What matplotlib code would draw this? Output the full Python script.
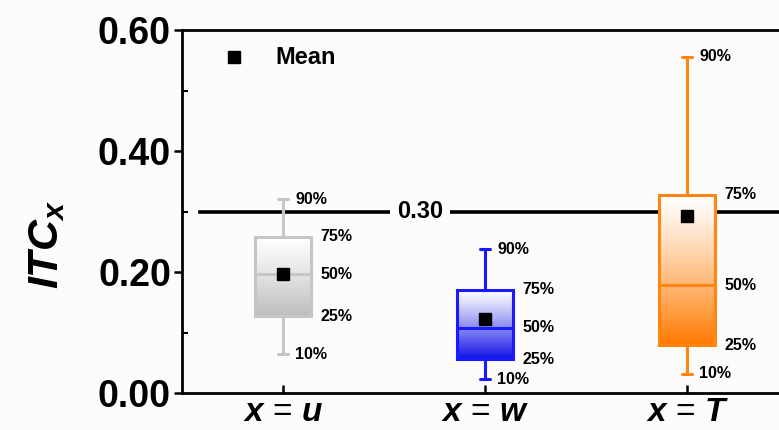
import matplotlib
matplotlib.use("Agg")
import matplotlib.pyplot as plt
import numpy as np
from matplotlib.colors import to_rgb

plt.rcParams['font.family'] = ['Liberation Sans', 'DejaVu Sans']
plt.rcParams['mathtext.fontset'] = 'custom'
plt.rcParams['mathtext.it'] = 'Liberation Sans:italic:bold'
plt.rcParams['mathtext.rm'] = 'Liberation Sans:bold'
plt.rcParams['mathtext.bf'] = 'Liberation Sans:bold'

# ---- data ----
categories = ['$x$ = $u$', '$x$ = $w$', '$x$ = $T$']
p10 = [0.064, 0.023, 0.032]
p25 = [0.127, 0.056, 0.079]
p50 = [0.196, 0.108, 0.178]
p75 = [0.258, 0.171, 0.328]
p90 = [0.320, 0.238, 0.556]
means = [0.197, 0.123, 0.293]
colors = ['#c6c6c6', '#1a1aff', '#ff8514']
bottom_colors = ['#bdbdbd', '#1010e8', '#ff7a00']
threshold = 0.30
yticks = [0.0, 0.2, 0.4, 0.6]
ytick_labels = ['0.00', '0.20', '0.40', '0.60']
pct_labels = ['10%', '25%', '50%', '75%', '90%']

bg = '#fdfcfb'
fig = plt.figure(figsize=(7.79, 4.30), dpi=100, facecolor=bg)
ax = fig.add_axes([182/779, 37/430, 606/779, 363/430])
ax.set_facecolor(bg)

positions = np.arange(1, len(categories) + 1)
bw = 0.28
cap = 0.045

for i, x in enumerate(positions):
    c = colors[i]
    # opaque gradient fill: white at top -> colour at bottom
    n = 200
    a = np.linspace(1, 0, n) ** 1.2   # row 0 (bottom, origin lower) = full colour
    rgb = np.array(to_rgb(bottom_colors[i]))
    img = np.ones((n, 1, 3))
    img[:, 0, :] = (1 - a)[:, None] * 1.0 + a[:, None] * rgb
    ax.imshow(img, extent=[x - bw/2, x + bw/2, p25[i], p75[i]], origin='lower',
              aspect='auto', zorder=5, interpolation='bilinear')
    lw = 2.2
    ax.plot([x - bw/2, x + bw/2, x + bw/2, x - bw/2, x - bw/2],
            [p25[i], p25[i], p75[i], p75[i], p25[i]], color=c, lw=lw, zorder=6,
            solid_joinstyle='miter')
    ax.plot([x - bw/2, x + bw/2], [p50[i], p50[i]], color=c, lw=lw, zorder=6)
    ax.plot([x, x], [p75[i], p90[i]], color=c, lw=lw, zorder=6)
    ax.plot([x, x], [p10[i], p25[i]], color=c, lw=lw, zorder=6)
    ax.plot([x - cap/2, x + cap/2], [p90[i], p90[i]], color=c, lw=lw, zorder=6,
            solid_capstyle='round')
    ax.plot([x - cap/2, x + cap/2], [p10[i], p10[i]], color=c, lw=lw, zorder=6,
            solid_capstyle='round')
    ax.plot(x, means[i], marker='s', color='black', markersize=8, zorder=7, ls='none')
    lab_x_box = x + bw/2 + 0.045
    lab_x_wh = x + 0.06
    vals = [p10[i], p25[i], p50[i], p75[i], p90[i]]
    xs = [lab_x_wh, lab_x_box, lab_x_box, lab_x_box, lab_x_wh]
    for lx, v, s in zip(xs, vals, pct_labels):
        ax.text(lx, v, s, fontsize=11.5, fontweight='bold', va='center', ha='left',
                zorder=8)

# threshold line
ax.plot([0.59, 3.6], [threshold, threshold], color='black', lw=2.6, zorder=4,
        clip_on=True)
ax.text(1.68, threshold, f'{threshold:.2f}', fontsize=17, fontweight='bold',
        ha='center', va='center', zorder=4.5,
        bbox=dict(facecolor=bg, edgecolor='none', pad=5))

# legend
ax.plot(0.757, 0.555, marker='s', color='black', markersize=8, ls='none', zorder=6)
ax.text(0.96, 0.555, 'Mean', fontsize=17, fontweight='bold', va='center', ha='left')

ax.set_xlim(0.5, 3.5)
ax.set_ylim(0, 0.6)
ax.set_xticks(positions)
ax.set_xticklabels(categories, fontsize=24)
ax.set_yticks(yticks)
ax.set_yticklabels(ytick_labels, fontsize=27, fontweight='bold')
ax.set_yticks([0.1, 0.3, 0.5], minor=True)

ax.tick_params(axis='y', which='major', direction='out', length=6, width=1.8, pad=2)
ax.tick_params(axis='y', which='minor', direction='in', length=4, width=1.5)
ax.tick_params(axis='x', which='major', direction='in', length=6, width=1.8, pad=3)
for s in ['left', 'bottom', 'top']:
    ax.spines[s].set_linewidth(2)
ax.spines['right'].set_visible(False)

ax.set_ylabel('$ITC_x$', fontsize=31)
ax.yaxis.set_label_coords(-0.19, 0.41)

fig.savefig('out.png', dpi=100, facecolor=bg)
